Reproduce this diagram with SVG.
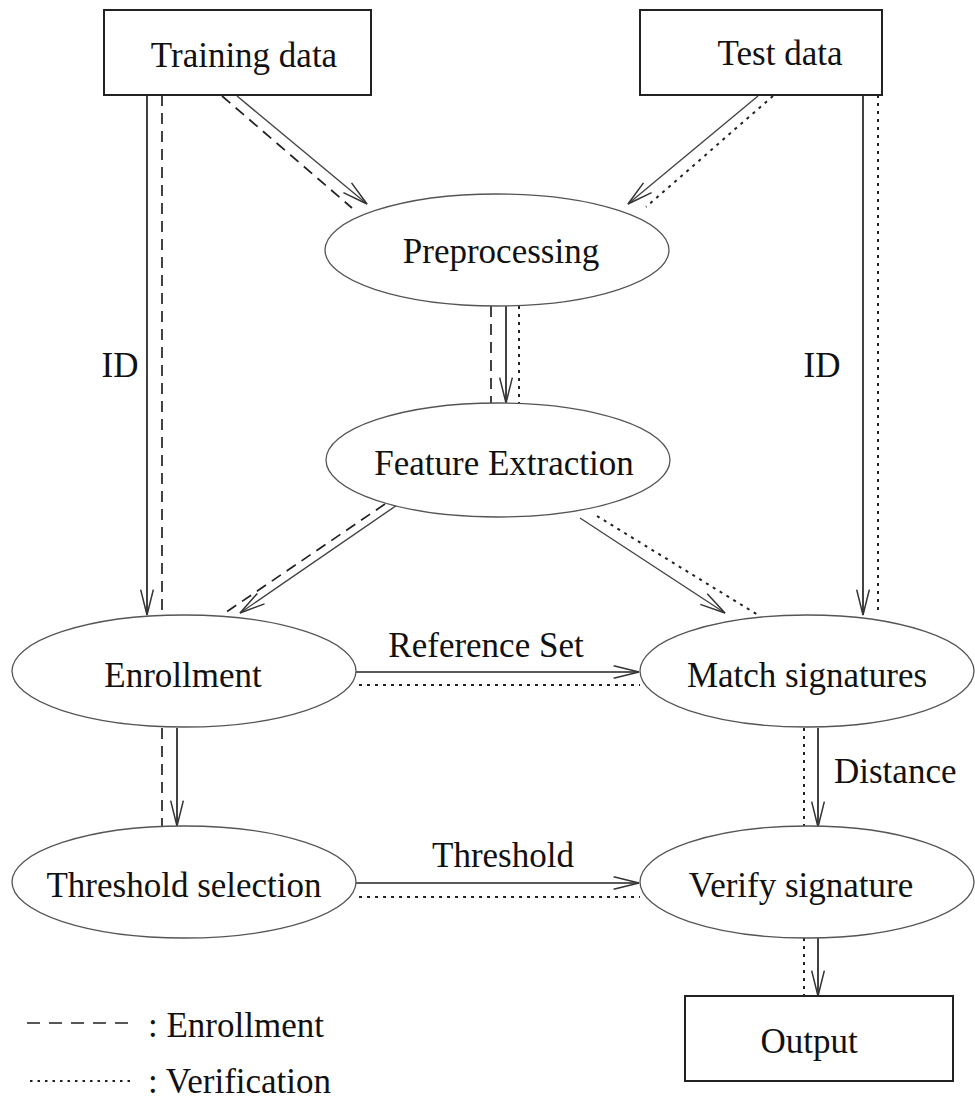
<svg xmlns="http://www.w3.org/2000/svg" width="975" height="1101" viewBox="0 0 975 1101" font-family="'Liberation Serif', 'Times New Roman', serif" font-size="35">
<defs>
<marker id="arr" markerUnits="userSpaceOnUse" markerWidth="30" markerHeight="20" viewBox="-24 -8 26 16" refX="0" refY="0" orient="auto">
<path d="M-22,-5.5 L0,0 L-22,5.5" fill="none" stroke="#333" stroke-width="1.3"/>
</marker>
<style>
text{font-family:'Liberation Serif','Times New Roman',serif;font-size:35px;fill:#111}
.box{fill:#fff;stroke:#222;stroke-width:2}
.ell{fill:#fff;stroke:#555;stroke-width:1.3}
.s{stroke:#222;stroke-width:1.7;fill:none}
.a{stroke:#444;stroke-width:1.4;fill:none}
.d{stroke:#222;stroke-width:1.7;fill:none;stroke-dasharray:11 7}
.o{stroke:#222;stroke-width:2;fill:none;stroke-dasharray:3 5}
.m{text-anchor:middle}
</style>
</defs>
<g id="connectors">
<line class="s" x1="147" y1="95" x2="147" y2="615" marker-end="url(#arr)"/>
<line class="d" x1="162" y1="95" x2="162" y2="615"/>
<line class="s" x1="863" y1="95" x2="863" y2="615" marker-end="url(#arr)"/>
<line class="o" x1="878" y1="95" x2="878" y2="615"/>
<line class="a" x1="237" y1="96" x2="367" y2="204" marker-end="url(#arr)"/>
<line class="d" x1="222" y1="96" x2="352" y2="208"/>
<line class="a" x1="758" y1="96" x2="628" y2="204" marker-end="url(#arr)"/>
<line class="o" x1="773" y1="96" x2="646" y2="207"/>
<line class="d" x1="491" y1="306" x2="491" y2="403"/>
<line class="s" x1="506" y1="306" x2="506" y2="403" marker-end="url(#arr)"/>
<line class="o" x1="519" y1="306" x2="519" y2="403"/>
<line class="a" x1="400" y1="503" x2="240" y2="613" marker-end="url(#arr)"/>
<line class="d" x1="385" y1="504" x2="222" y2="615"/>
<line class="a" x1="580" y1="518" x2="725" y2="613" marker-end="url(#arr)"/>
<line class="o" x1="597" y1="516" x2="758" y2="615"/>
<line class="s" x1="356" y1="672" x2="639" y2="672" marker-end="url(#arr)"/>
<line class="o" x1="359" y1="685" x2="640" y2="685"/>
<line class="d" x1="162" y1="728" x2="162" y2="826"/>
<line class="s" x1="177" y1="728" x2="177" y2="826" marker-end="url(#arr)"/>
<line class="o" x1="804" y1="728" x2="804" y2="827"/>
<line class="s" x1="818" y1="728" x2="818" y2="827" marker-end="url(#arr)"/>
<line class="s" x1="356" y1="883" x2="639" y2="883" marker-end="url(#arr)"/>
<line class="o" x1="359" y1="897" x2="640" y2="897"/>
<line class="o" x1="804" y1="938" x2="804" y2="996"/>
<line class="s" x1="818" y1="938" x2="818" y2="996" marker-end="url(#arr)"/>
<text x="120" y="377" class="m">ID</text>
<text x="822" y="377" class="m">ID</text>
<text x="486" y="657" class="m">Reference Set</text>
<text x="503" y="867" class="m">Threshold</text>
<text x="834" y="783">Distance</text>
</g>
<g id="training">
<rect class="box" x="104" y="10" width="267" height="85"/>
<text x="244" y="67" class="m">Training data</text>
</g>
<g id="test">
<rect class="box" x="640" y="10" width="242" height="85"/>
<text x="780" y="65" class="m">Test data</text>
</g>
<g id="preprocessing">
<ellipse class="ell" cx="497" cy="250" rx="172" ry="56"/>
<text x="501" y="263" class="m">Preprocessing</text>
</g>
<g id="feature">
<ellipse class="ell" cx="498" cy="460" rx="172" ry="57"/>
<text x="504" y="475" class="m">Feature Extraction</text>
</g>
<g id="enrollment">
<ellipse class="ell" cx="184" cy="671" rx="172" ry="56"/>
<text x="183" y="687" class="m">Enrollment</text>
</g>
<g id="match">
<ellipse class="ell" cx="807" cy="671" rx="167" ry="56"/>
<text x="807" y="687" class="m">Match signatures</text>
</g>
<g id="threshold">
<ellipse class="ell" cx="184" cy="882" rx="172" ry="56"/>
<text x="184" y="897" class="m">Threshold selection</text>
</g>
<g id="verify">
<ellipse class="ell" cx="807" cy="882" rx="167" ry="56"/>
<text x="801" y="897" class="m">Verify signature</text>
</g>
<g id="output">
<rect class="box" x="685" y="996" width="268" height="85"/>
<text x="809" y="1053" class="m">Output</text>
</g>
<g id="legend">
<line x1="27" y1="1023" x2="133" y2="1023" stroke="#222" stroke-width="1.5" stroke-dasharray="13 9"/>
<text x="148" y="1037">: Enrollment</text>
<line x1="30" y1="1081" x2="130" y2="1081" stroke="#222" stroke-width="1.8" stroke-dasharray="2.5 5"/>
<text x="148" y="1093">: Verification</text>
</g>
</svg>
